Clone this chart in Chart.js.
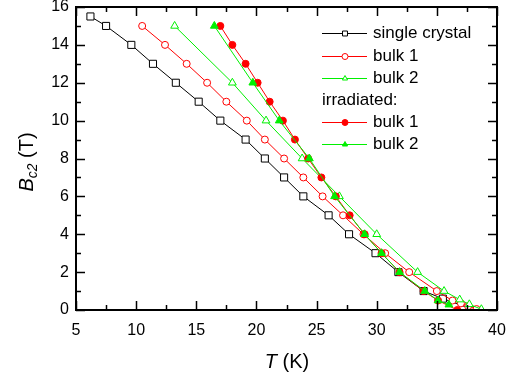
<!DOCTYPE html>
<html>
<head>
<meta charset="utf-8">
<script src="https://cdn.jsdelivr.net/npm/chart.js@4.4.1/dist/chart.umd.min.js"></script>
<style>
  html, body { margin: 0; padding: 0; background: #fff; }
  #wrap { width: 508px; height: 383px; }
</style>
</head>
<body>
<div id="wrap"><canvas id="bc2Chart"></canvas></div>
<script>
// Bc2(T) data
const crystalT = [6.2, 7.5, 9.6, 11.4, 13.3, 15.2, 17.0, 19.1, 20.7, 22.3, 23.9, 26.0, 27.7, 29.9, 31.8, 33.9, 35.5, 38.1];
const crystalB = [15.5, 15, 14, 13, 12, 11, 10, 9, 8, 7, 6, 5, 4, 3, 2, 1, 0.6, 0];

const bulk1T = [10.5, 12.4, 14.2, 15.9, 17.5, 19.2, 20.7, 22.3, 23.9, 25.5, 27.2, 28.9, 30.7, 32.7, 35.0, 36.3, 37.0, 37.6, 38.3];
const bulk1B = [15, 14, 13, 12, 11, 10, 9, 8, 7, 6, 5, 4, 3, 2, 1, 0.5, 0.35, 0.2, 0.05];

const bulk2T = [13.2, 18.0, 20.8, 23.8, 26.9, 30.0, 33.4, 35.6, 36.9, 37.7, 38.7];
const bulk2B = [15, 12, 10, 8, 6, 4, 2, 1, 0.55, 0.3, 0.04];

const irr1T = [17.0, 18.0, 19.1, 20.1, 21.1, 22.2, 23.2, 24.3, 25.4, 26.6, 27.75, 29.0, 30.4, 31.9, 33.9, 35.1, 36.7];
const irr1B = [15, 14, 13, 12, 11, 10, 9, 8, 7, 6, 5, 4, 3, 2, 1, 0.5, 0];

const irr2T = [16.5, 19.7, 21.9, 24.4, 26.5, 29.0, 30.4, 31.9, 34.0, 35.1, 36.0];
const irr2B = [15, 12, 10, 8, 6, 4, 3, 2, 1, 0.5, 0.28];

const xTicks = [5, 10, 15, 20, 25, 30, 35, 40];
const yTicks = [0, 2, 4, 6, 8, 10, 12, 14, 16];

const RED = '#ff0000';
const GREEN = '#00f000';
const FONT = '"Liberation Sans", Arial, sans-serif';

function pts(xs, ys) {
    return xs.map((x, i) => ({ x: x, y: ys[i] }));
}

function series(label, xs, ys, color, style, filled, radius, order) {
    return {
        label: label,
        data: pts(xs, ys),
        showLine: true,
        borderColor: color,
        borderWidth: 1,
        pointStyle: style,
        pointRadius: radius,
        pointBorderWidth: 1,
        pointBorderColor: color,
        pointBackgroundColor: filled ? color : '#ffffff',
        order: order
    };
}

const datasets = [
    series('single crystal', crystalT, crystalB, '#000000', 'rect', false, 5, 4),
    series('bulk 1', bulk1T, bulk1B, RED, 'circle', false, 3.5, 3),
    series('bulk 2', bulk2T, bulk2B, GREEN, 'triangle', false, 4.5, 2),
    series('bulk 1', irr1T, irr1B, RED, 'circle', true, 3.5, 1),
    series('bulk 2', irr2T, irr2B, GREEN, 'triangle', true, 4.5, 0)
];

// frame, inward ticks, axis titles and legend
const framePlugin = {
    id: 'frame',
    afterDraw(chart) {
        const ctx = chart.ctx;
        const a = chart.chartArea;
        const xs = chart.scales.x;
        const ys = chart.scales.y;
        ctx.save();
        ctx.strokeStyle = '#000';
        ctx.lineWidth = 1.5;
        // minor + major ticks
        for (let v = 5; v <= 40; v += 2.5) {
            const len = (v % 5 === 0) ? 9 : 5;
            const px = Math.round(xs.getPixelForValue(v)) + 0.5;
            ctx.beginPath();
            ctx.moveTo(px, a.bottom); ctx.lineTo(px, a.bottom - len);
            ctx.moveTo(px, a.top); ctx.lineTo(px, a.top + len);
            ctx.stroke();
        }
        for (let v = 0; v <= 16; v += 1) {
            const len = (v % 2 === 0) ? 9 : 5;
            const py = Math.round(ys.getPixelForValue(v)) + 0.5;
            ctx.beginPath();
            ctx.moveTo(a.left, py); ctx.lineTo(a.left + len, py);
            ctx.moveTo(a.right, py); ctx.lineTo(a.right - len, py);
            ctx.stroke();
        }
        ctx.lineWidth = 2;
        ctx.strokeRect(a.left, a.top, a.right - a.left, a.bottom - a.top);

        // x title: T (K)
        ctx.fillStyle = '#000';
        ctx.textBaseline = 'middle';
        ctx.font = 'italic 20px ' + FONT;
        const tW = ctx.measureText('T').width;
        ctx.font = '20px ' + FONT;
        const kW = ctx.measureText(' (K)').width;
        let x0 = 287 - (tW + kW) / 2;
        ctx.font = 'italic 20px ' + FONT;
        ctx.textAlign = 'left';
        ctx.fillText('T', x0, 362);
        ctx.font = '20px ' + FONT;
        ctx.fillText(' (K)', x0 + tW, 362);

        // y title: B_c2 (T)
        ctx.save();
        ctx.translate(27, 162);
        ctx.rotate(-Math.PI / 2);
        ctx.font = 'italic 20px ' + FONT;
        const bW = ctx.measureText('B').width;
        ctx.font = 'italic 14px ' + FONT;
        const sW = ctx.measureText('c2').width;
        ctx.font = '20px ' + FONT;
        const uW = ctx.measureText(' (T)').width;
        let y0 = -(bW + sW + uW) / 2;
        ctx.textAlign = 'left';
        ctx.font = 'italic 20px ' + FONT;
        ctx.fillText('B', y0, 0);
        ctx.font = 'italic 14px ' + FONT;
        ctx.fillText('c2', y0 + bW, 6);
        ctx.font = '20px ' + FONT;
        ctx.fillText(' (T)', y0 + bW + sW, 0);
        ctx.restore();

        // legend
        const rows = [
            { ds: 0, y: 33 }, { ds: 1, y: 56 }, { ds: 2, y: 78 },
            { text: 'irradiated:', y: 100 },
            { ds: 3, y: 122 }, { ds: 4, y: 144 }
        ];
        ctx.font = '17px ' + FONT;
        rows.forEach(r => {
            if (r.text) {
                ctx.fillStyle = '#000';
                ctx.fillText(r.text, 322, r.y);
                return;
            }
            const d = datasets[r.ds];
            ctx.strokeStyle = d.borderColor;
            ctx.lineWidth = 1;
            ctx.beginPath();
            ctx.moveTo(322, r.y + 0.5); ctx.lineTo(367, r.y + 0.5);
            ctx.stroke();
            ctx.fillStyle = d.pointBackgroundColor;
            Chart.helpers.drawPoint(ctx, {
                pointStyle: d.pointStyle,
                radius: d.pointStyle === 'rect' ? 3.5 : 3,
                rotation: 0,
                borderWidth: 1
            }, 345, r.y + 0.5);
            ctx.fillStyle = '#000';
            ctx.fillText(d.label, 373, r.y);
        });
        ctx.restore();
    }
};

const ctx = document.getElementById('bc2Chart').getContext('2d');
new Chart(ctx, {
    type: 'scatter',
    data: { datasets: datasets },
    options: {
        responsive: true,
        maintainAspectRatio: false,
        animation: false,
        layout: { padding: { top: 7, right: 11, left: 0, bottom: 0 } },
        plugins: {
            legend: { display: false },
            tooltip: { enabled: false }
        },
        scales: {
            x: {
                type: 'linear',
                min: 5,
                max: 40,
                afterFit: s => { s.height = 73; s.paddingLeft = 0; s.paddingRight = 0; },
                afterBuildTicks: s => { s.ticks = xTicks.map(v => ({ value: v })); },
                grid: { display: false, drawTicks: false },
                border: { display: false },
                ticks: { color: '#000', padding: 11, font: { family: FONT, size: 16 } }
            },
            y: {
                type: 'linear',
                min: 0,
                max: 16,
                afterFit: s => { s.width = 76; s.paddingTop = 0; s.paddingBottom = 0; },
                afterBuildTicks: s => { s.ticks = yTicks.map(v => ({ value: v })); },
                grid: { display: false, drawTicks: false },
                border: { display: false },
                ticks: { color: '#000', padding: 7, font: { family: FONT, size: 16 } }
            }
        }
    },
    plugins: [framePlugin]
});
</script>
</body>
</html>
